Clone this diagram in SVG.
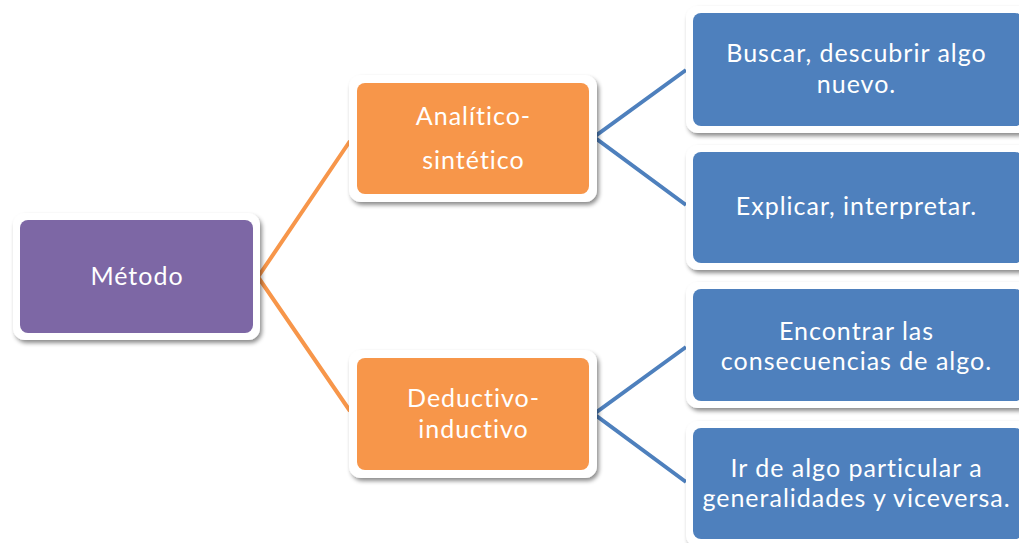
<svg xmlns="http://www.w3.org/2000/svg" width="1019" height="543" viewBox="0 0 1019 543">
<defs>
<filter id="sh" x="-10%" y="-10%" width="125%" height="130%">
<feDropShadow dx="2" dy="3" stdDeviation="2" flood-color="#000" flood-opacity="0.45"/>
</filter>
</defs>
<style>
.frame{fill:#fff;filter:url(#sh)}
.purple{fill:#7D67A5}
.orange{fill:#F7964A}
.blue{fill:#4E80BD}
.t{font-family:Lato,"Open Sans",sans-serif;font-size:25px;letter-spacing:1px;font-variant-ligatures:none;fill:#fff;text-anchor:middle}
.co{fill:none;stroke:#F7964A;stroke-width:4}
.cb{fill:none;stroke:#4E80BD;stroke-width:4}
</style>
<rect width="1019" height="543" fill="#fff"/>
<g id="connectors">
<polyline class="co" points="350,141 258,277 350,411"/>
<polyline class="cb" points="686,70 594,137 686,205"/>
<polyline class="cb" points="686,347 594,414 686,482"/>
</g>
<g id="metodo">
<rect class="frame" x="13" y="213" width="247" height="127" rx="12"/>
<rect class="purple" x="20" y="220" width="233" height="113" rx="8"/>
<text class="t" x="137" y="285">Método</text>
</g>
<g id="analitico">
<rect class="frame" x="349" y="75" width="248" height="127" rx="12"/>
<rect class="orange" x="357" y="83" width="232" height="111" rx="8"/>
<text class="t" x="473.5" y="125">Analítico-</text>
<text class="t" x="473.5" y="169">sintético</text>
</g>
<g id="deductivo">
<rect class="frame" x="349" y="350" width="248" height="128" rx="12"/>
<rect class="orange" x="357" y="358" width="232" height="112" rx="8"/>
<text class="t" x="473.5" y="407">Deductivo-</text>
<text class="t" x="473.5" y="438">inductivo</text>
</g>
<g id="buscar">
<rect class="frame" x="686" y="6" width="345" height="127" rx="12"/>
<rect class="blue" x="693" y="13" width="330" height="113" rx="8"/>
<text class="t" x="856.5" y="62">Buscar, descubrir algo</text>
<text class="t" x="856.5" y="93">nuevo.</text>
</g>
<g id="explicar">
<rect class="frame" x="686" y="145" width="345" height="125" rx="12"/>
<rect class="blue" x="693" y="152" width="330" height="111" rx="8"/>
<text class="t" x="856.5" y="215">Explicar, interpretar.</text>
</g>
<g id="encontrar">
<rect class="frame" x="686" y="282" width="345" height="126" rx="12"/>
<rect class="blue" x="693" y="289" width="330" height="112" rx="8"/>
<text class="t" x="856.5" y="340">Encontrar las</text>
<text class="t" x="856.5" y="370">consecuencias de algo.</text>
</g>
<g id="ir">
<rect class="frame" x="686" y="421" width="345" height="126" rx="12"/>
<rect class="blue" x="693" y="428" width="330" height="111" rx="8"/>
<text class="t" x="856.5" y="477">Ir de algo particular a</text>
<text class="t" x="856.5" y="507">generalidades y viceversa.</text>
</g>
</svg>
